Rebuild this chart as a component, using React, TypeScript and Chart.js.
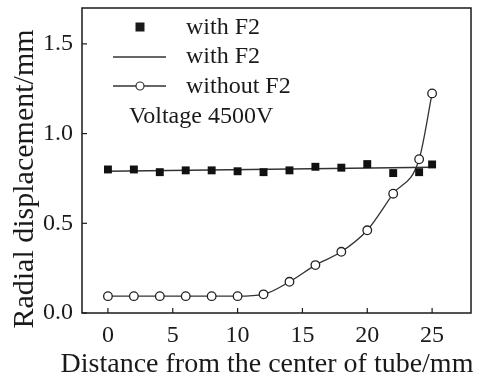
import React, { useEffect, useRef } from "react";
import { Chart, registerables } from "chart.js";

Chart.register(...registerables);

const DIST = [0, 2, 4, 6, 8, 10, 12, 14, 16, 18, 20, 22, 24, 25];
const WITH_F2 = [0.8, 0.8, 0.785, 0.795, 0.795, 0.79, 0.785, 0.795, 0.815, 0.81, 0.83, 0.78, 0.785, 0.828];
const WITHOUT_F2 = [0.094, 0.094, 0.094, 0.094, 0.094, 0.094, 0.104, 0.174, 0.267, 0.341, 0.461, 0.665, 0.857, 1.224];
const FIT_X = [0, 25];
const FIT_Y = [0.79, 0.812];
const X_TICKS = [0, 5, 10, 15, 20, 25];
const Y_TICKS = [0, 0.5, 1.0, 1.5];
const LEGEND_LABELS = ["with F2", "with F2", "without F2"];
const NOTE = "Voltage 4500V";
const X_TITLE = "Distance from the center of tube/mm";
const Y_TITLE = "Radial displacement/mm";

const FONT = "'Liberation Serif', 'Times New Roman', serif";
const INK = "#1a1a1a";

const framePlugin = {
  id: "framePlugin",
  afterDraw(chart: any) {
    const { ctx, chartArea } = chart;
    const { left, right, top, bottom } = chartArea;
    const x = chart.scales.x;
    const y = chart.scales.y;
    ctx.save();
    ctx.strokeStyle = INK;
    ctx.lineWidth = 1.5;
    ctx.strokeRect(left, top, right - left, bottom - top);
    ctx.lineWidth = 1.2;
    X_TICKS.forEach((v) => {
      const px = x.getPixelForValue(v);
      ctx.beginPath();
      ctx.moveTo(px, bottom);
      ctx.lineTo(px, bottom - 5);
      ctx.stroke();
    });
    Y_TICKS.forEach((v) => {
      const py = y.getPixelForValue(v);
      ctx.beginPath();
      ctx.moveTo(left, py);
      ctx.lineTo(left + 5, py);
      ctx.stroke();
    });

    // legend
    ctx.fillStyle = INK;
    ctx.font = `24px ${FONT}`;
    ctx.textBaseline = "alphabetic";
    ctx.textAlign = "left";
    const symX = 140;
    const textX = 186;
    const baselines = [34, 63, 93];
    ctx.fillRect(symX - 4.5, baselines[0] - 11.5, 9, 9);
    ctx.fillText(LEGEND_LABELS[0], textX, baselines[0]);
    ctx.lineWidth = 1.5;
    ctx.strokeStyle = "#333";
    ctx.beginPath();
    ctx.moveTo(113, baselines[1] - 6);
    ctx.lineTo(166, baselines[1] - 6);
    ctx.stroke();
    ctx.fillText(LEGEND_LABELS[1], textX, baselines[1]);
    const cy = baselines[2] - 7;
    ctx.beginPath();
    ctx.moveTo(113, cy);
    ctx.lineTo(166, cy);
    ctx.stroke();
    ctx.beginPath();
    ctx.arc(symX, cy, 4, 0, Math.PI * 2);
    ctx.fillStyle = "#fff";
    ctx.fill();
    ctx.lineWidth = 1.2;
    ctx.stroke();
    ctx.fillStyle = INK;
    ctx.fillText(LEGEND_LABELS[2], textX, baselines[2]);
    ctx.fillText(NOTE, 129, 123);

    // axis titles
    ctx.font = `28px ${FONT}`;
    ctx.textAlign = "center";
    ctx.fillText(X_TITLE, 267, 372);
    ctx.font = `30px ${FONT}`;
    ctx.save();
    ctx.translate(33, 179);
    ctx.rotate(-Math.PI / 2);
    ctx.fillText(Y_TITLE, 0, 0);
    ctx.restore();
    ctx.restore();
  },
};

export default function App() {
  const ref = useRef<HTMLCanvasElement | null>(null);
  useEffect(() => {
    if (!ref.current) return;
    const chart = new Chart(ref.current, {
      type: "scatter",
      data: {
        datasets: [
          {
            label: LEGEND_LABELS[0],
            data: DIST.map((d, i) => ({ x: d, y: WITH_F2[i] })),
            showLine: false,
            pointStyle: "rect",
            pointRadius: 5.6,
            pointBackgroundColor: "#111",
            pointBorderColor: "#111",
            pointBorderWidth: 0,
          },
          {
            label: LEGEND_LABELS[1],
            data: FIT_X.map((d, i) => ({ x: d, y: FIT_Y[i] })),
            showLine: true,
            borderColor: "#333",
            borderWidth: 1.5,
            pointRadius: 0,
          },
          {
            label: LEGEND_LABELS[2],
            data: DIST.map((d, i) => ({ x: d, y: WITHOUT_F2[i] })),
            showLine: true,
            cubicInterpolationMode: "monotone",
            borderColor: "#333",
            borderWidth: 1.3,
            pointStyle: "circle",
            pointRadius: 4.3,
            pointBackgroundColor: "#fff",
            pointBorderColor: "#222",
            pointBorderWidth: 1.3,
          },
        ],
      },
      options: {
        animation: false,
        responsive: false,
        maintainAspectRatio: false,
        layout: { padding: { top: 8, right: 7, left: 0, bottom: 0 } },
        plugins: {
          legend: { display: false },
          tooltip: { enabled: false },
        },
        scales: {
          x: {
            type: "linear",
            min: -2,
            max: 28,
            grid: { display: false, drawTicks: false },
            border: { display: false },
            afterBuildTicks: (s: any) => {
              s.ticks = X_TICKS.map((v) => ({ value: v }));
            },
            afterFit: (s: any) => {
              s.height = 68;
              s.paddingLeft = 0;
              s.paddingRight = 0;
            },
            ticks: {
              color: INK,
              padding: 8,
              font: { family: FONT, size: 24 },
            },
          },
          y: {
            type: "linear",
            min: 0,
            max: 1.7,
            grid: { display: false, drawTicks: false },
            border: { display: false },
            afterBuildTicks: (s: any) => {
              s.ticks = Y_TICKS.map((v) => ({ value: v }));
            },
            afterFit: (s: any) => {
              s.width = 82;
              s.paddingTop = 0;
              s.paddingBottom = 0;
            },
            ticks: {
              color: INK,
              padding: 9,
              font: { family: FONT, size: 24 },
              callback: (v: any) => Number(v).toFixed(1),
            },
          },
        },
      },
      plugins: [framePlugin],
    });
    return () => chart.destroy();
  }, []);
  return (
    <div style={{ position: "fixed", left: 0, top: 0, width: 478, height: 381, background: "#fff" }}>
      <canvas ref={ref} width={478} height={381} style={{ width: 478, height: 381 }} />
    </div>
  );
}
